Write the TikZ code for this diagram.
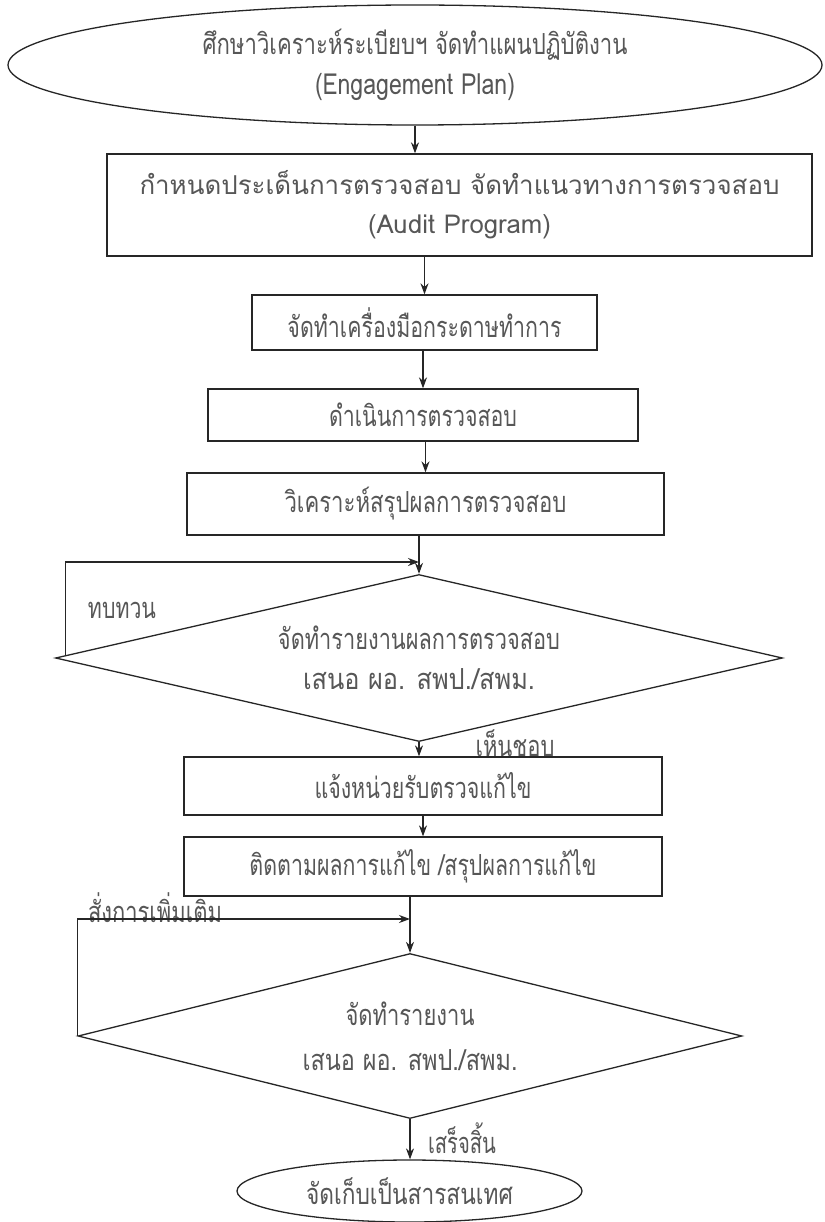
\documentclass[tikz,border=0pt]{standalone}
\usepackage{graphicx}
\usepackage{fontspec}
\setmainfont[Script=Thai]{Loma}
\usetikzlibrary{shapes.geometric,arrows.meta,calc}

% set a line of text to a given width, keeping its height
\newcommand{\tw}[2]{\resizebox{#1}{\height}{#2}}

\begin{document}
\begin{tikzpicture}[x=1pt,y=-1pt,
  ln/.style={draw=black!85, line width=1.3pt},
  txt/.style={text=black!66, font=\fontsize{29}{40}\selectfont, align=center},
  procbox/.style={ln, txt, rectangle, inner sep=0pt},
  oval/.style={ln, txt, ellipse, inner sep=0pt},
  decide/.style={ln, txt, diamond, inner sep=0pt, aspect=4},
  arr/.style={ln, -{Stealth[length=11pt,width=8pt]}},
  lbl/.style={text=black!66, font=\fontsize{29}{32}\selectfont, inner sep=0pt}
]
\useasboundingbox[fill=white] (0,0) rectangle (824,1222);

% process chain
\node[oval, minimum width=814pt, minimum height=120pt] (e1) at (415,65)
  {\tw{425pt}{ศึกษาวิเคราะห์ระเบียบฯ จัดทำแผนปฏิบัติงาน}\\
   \tw{200pt}{(Engagement Plan)}};
\node[procbox, minimum width=705pt, minimum height=102pt,
      font=\fontsize{26}{39}\selectfont] (b2) at (459.5,205)
  {\tw{640pt}{กำหนดประเด็นการตรวจสอบ จัดทำแนวทางการตรวจสอบ}\\
   \tw{183pt}{(Audit Program)}};
\node[procbox, minimum width=345pt, minimum height=55pt] (b3) at (424.5,322.5)
  {\tw{274pt}{จัดทำเครื่องมือกระดาษทำการ}};
\node[procbox, minimum width=430pt, minimum height=52pt] (b4) at (423,415)
  {\tw{188pt}{ดำเนินการตรวจสอบ}};
\node[procbox, minimum width=477pt, minimum height=62pt] (b5) at (425.5,504)
  {\tw{282pt}{วิเคราะห์สรุปผลการตรวจสอบ}};
\node[decide, minimum width=727pt, minimum height=167pt] (d1) at (419,658)
  {\tw{282pt}{จัดทำรายงานผลการตรวจสอบ}\\
   \tw{232pt}{เสนอ ผอ. สพป./สพม.}};
\node[procbox, minimum width=478pt, minimum height=58pt] (b6) at (423,786)
  {\tw{217pt}{แจ้งหน่วยรับตรวจแก้ไข}};
\node[procbox, minimum width=478pt, minimum height=59pt] (b7) at (423,866.5)
  {\tw{347pt}{ติดตามผลการแก้ไข /สรุปผลการแก้ไข}};
\node[decide, minimum width=664pt, minimum height=165pt,
      font=\fontsize{29}{45}\selectfont] (d2) at (410,1036)
  {\tw{129pt}{จัดทำรายงาน}\\
   \tw{215pt}{เสนอ ผอ. สพป./สพม.}};
\node[oval, minimum width=345pt, minimum height=62pt] (e2) at (409.5,1191)
  {\tw{207pt}{จัดเก็บเป็นสารสนเทศ}};

% labels
\node[lbl] (lrev) at (122,610) {\tw{68pt}{ทบทวน}};
\node[lbl] (lok) at (515,743) {\tw{79pt}{เห็นชอบ}};
\node[lbl, anchor=south] (lmore) at (155,923) {\tw{134pt}{สั่งการเพิ่มเติม}};
\node[lbl] (ldone) at (462,1138) {\tw{68pt}{เสร็จสิ้น}};

% connectors
\draw[arr] (e1.south) -- (e1.south |- b2.north);
\draw[arr] (b3.north |- b2.south) -- (b3.north);
\draw[arr] (b4.north |- b3.south) -- (b4.north);
\draw[arr] (b5.north |- b4.south) -- (b5.north);
\draw[arr] (d1.north |- b5.south) -- (d1.north);
\draw[arr] (d1.south) -- (d1.south |- b6.north);
\draw[arr] (b6.south) -- (b7.north);
\draw[arr] (d2.north |- b7.south) -- (d2.north);
\draw[arr] (d2.south) -- (d2.south |- e2.north);

% feedback loops
\coordinate (s1) at ($(d1.west)!0.03!(d1.north)$);
\coordinate (j1) at (d1.north |- 0,562);
\draw[arr] (s1) |- (j1);
\coordinate (j2) at (d2.north |- 0,919);
\draw[arr] (d2.west) |- (j2);
\end{tikzpicture}
\end{document}
